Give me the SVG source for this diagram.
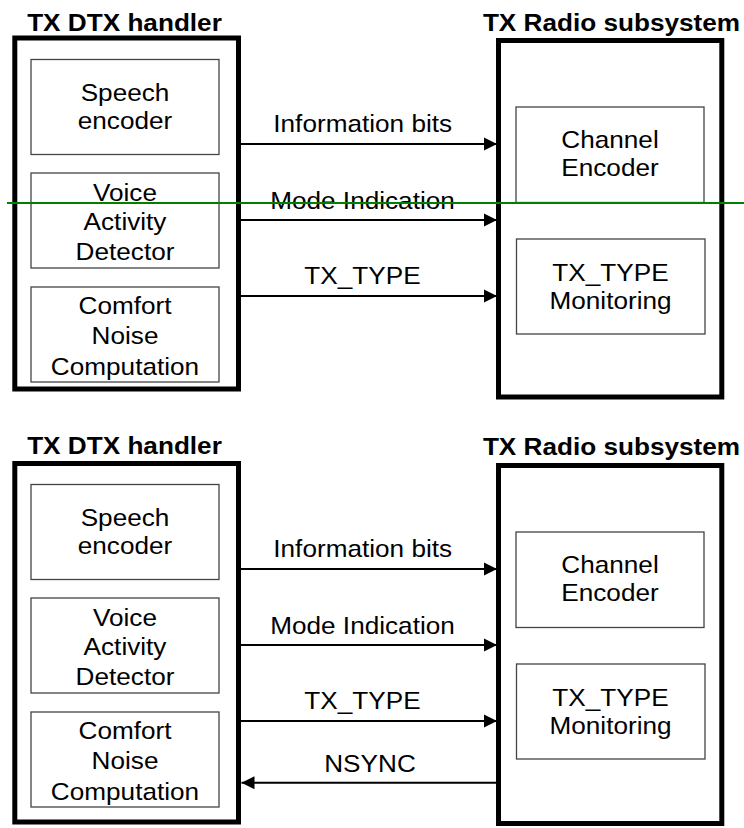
<svg xmlns="http://www.w3.org/2000/svg" width="744" height="828" viewBox="0 0 744 828">
  <style>
    .frame { fill: none; stroke: #000; stroke-width: 5; }
    .block { fill: #fff; stroke: #444; stroke-width: 1.3; }
    .lbl { font-family: "Liberation Sans", Arial, sans-serif; font-size: 24px; fill: #000; text-anchor: middle; }
    .ttl { font-family: "Liberation Sans", Arial, sans-serif; font-size: 24px; font-weight: bold; fill: #000; text-anchor: middle; }
    .wire { stroke: #000; stroke-width: 2; fill: none; }
  </style>
  <defs>
    <marker id="head" markerUnits="userSpaceOnUse" markerWidth="14" markerHeight="14" refX="13" refY="7" orient="auto">
      <path d="M0,0.5 L13,7 L0,13.5 Z" fill="#000"/>
    </marker>
  </defs>
  <rect width="744" height="828" fill="#fff"/>

  <!-- Upper arrangement: without NSYNC -->
  <g id="tx-dtx-handler-1">
    <text class="ttl" transform="translate(124.5 30.5) scale(1.09 1)">TX DTX handler</text>
    <rect class="frame" x="14.8" y="38" width="223.7" height="351"/>
  </g>
  <g id="speech-encoder-1">
    <rect class="block" x="31" y="59.5" width="188" height="95"/>
    <text class="lbl" transform="translate(125 100.5) scale(1.09 1)"><tspan x="0" y="0">Speech</tspan><tspan x="0" y="28.5">encoder</tspan></text>
  </g>
  <g id="vad-1">
    <rect class="block" x="31" y="173" width="188" height="95"/>
    <text class="lbl" transform="translate(125 200.5) scale(1.09 1)"><tspan x="0" y="0">Voice</tspan><tspan x="0" y="30">Activity</tspan><tspan x="0" y="60">Detector</tspan></text>
  </g>
  <g id="comfort-noise-1">
    <rect class="block" x="31" y="287" width="188" height="95"/>
    <text class="lbl" transform="translate(125 313.5) scale(1.09 1)"><tspan x="0" y="0">Comfort</tspan><tspan x="0" y="31">Noise</tspan><tspan x="0" y="62">Computation</tspan></text>
  </g>
  <g id="tx-radio-1">
    <text class="ttl" transform="translate(611.5 31) scale(1.09 1)">TX Radio subsystem</text>
    <rect class="frame" x="498.5" y="40.5" width="223.3" height="356.5"/>
  </g>
  <g id="channel-encoder-1">
    <rect class="block" x="516" y="107" width="188" height="95.5"/>
    <text class="lbl" transform="translate(610 148) scale(1.09 1)"><tspan x="0" y="0">Channel</tspan><tspan x="0" y="28">Encoder</tspan></text>
  </g>
  <g id="tx-type-monitoring-1">
    <rect class="block" x="516.5" y="239" width="188.5" height="95"/>
    <text class="lbl" transform="translate(610.5 281) scale(1.09 1)"><tspan x="0" y="0">TX_TYPE</tspan><tspan x="0" y="28.5">Monitoring</tspan></text>
  </g>
  <g id="connectors-1">
    <line class="wire" x1="240" y1="144" x2="497" y2="144" marker-end="url(#head)"/>
    <text class="lbl" transform="translate(362.7 132.3) scale(1.09 1)">Information bits</text>
    <line class="wire" x1="240" y1="220" x2="497" y2="220" marker-end="url(#head)"/>
    <text class="lbl" transform="translate(362.5 209) scale(1.09 1)">Mode Indication</text>
    <line class="wire" x1="240" y1="296" x2="497" y2="296" marker-end="url(#head)"/>
    <text class="lbl" transform="translate(362.5 284.3) scale(1.09 1)">TX_TYPE</text>
  </g>

  <!-- Lower arrangement: with NSYNC feedback -->
  <g id="tx-dtx-handler-2">
    <text class="ttl" transform="translate(124.5 454) scale(1.09 1)">TX DTX handler</text>
    <rect class="frame" x="14.8" y="463.5" width="223.7" height="358.5"/>
  </g>
  <g id="speech-encoder-2">
    <rect class="block" x="31" y="484.5" width="188" height="95"/>
    <text class="lbl" transform="translate(125 525.5) scale(1.09 1)"><tspan x="0" y="0">Speech</tspan><tspan x="0" y="28.5">encoder</tspan></text>
  </g>
  <g id="vad-2">
    <rect class="block" x="31" y="598" width="188" height="95"/>
    <text class="lbl" transform="translate(125 625.5) scale(1.09 1)"><tspan x="0" y="0">Voice</tspan><tspan x="0" y="30">Activity</tspan><tspan x="0" y="60">Detector</tspan></text>
  </g>
  <g id="comfort-noise-2">
    <rect class="block" x="31" y="712" width="188" height="95"/>
    <text class="lbl" transform="translate(125 738.5) scale(1.09 1)"><tspan x="0" y="0">Comfort</tspan><tspan x="0" y="31">Noise</tspan><tspan x="0" y="62">Computation</tspan></text>
  </g>
  <g id="tx-radio-2">
    <text class="ttl" transform="translate(611.5 455) scale(1.09 1)">TX Radio subsystem</text>
    <rect class="frame" x="498.5" y="465.5" width="223.3" height="358"/>
  </g>
  <g id="channel-encoder-2">
    <rect class="block" x="516" y="532" width="188" height="95.5"/>
    <text class="lbl" transform="translate(610 573) scale(1.09 1)"><tspan x="0" y="0">Channel</tspan><tspan x="0" y="28">Encoder</tspan></text>
  </g>
  <g id="tx-type-monitoring-2">
    <rect class="block" x="516.5" y="664" width="188.5" height="95"/>
    <text class="lbl" transform="translate(610.5 706) scale(1.09 1)"><tspan x="0" y="0">TX_TYPE</tspan><tspan x="0" y="28.5">Monitoring</tspan></text>
  </g>
  <g id="connectors-2">
    <line class="wire" x1="240" y1="569" x2="497" y2="569" marker-end="url(#head)"/>
    <text class="lbl" transform="translate(362.7 557.3) scale(1.09 1)">Information bits</text>
    <line class="wire" x1="240" y1="645" x2="497" y2="645" marker-end="url(#head)"/>
    <text class="lbl" transform="translate(362.5 634) scale(1.09 1)">Mode Indication</text>
    <line class="wire" x1="240" y1="721" x2="497" y2="721" marker-end="url(#head)"/>
    <text class="lbl" transform="translate(362.5 709.3) scale(1.09 1)">TX_TYPE</text>
    <line class="wire" x1="497" y1="782.7" x2="241.5" y2="782.7" marker-end="url(#head)"/>
    <text class="lbl" transform="translate(370 772.3) scale(1.09 1)">NSYNC</text>
  </g>

  <!-- horizontal green rule across the upper arrangement -->
  <line id="green-rule" x1="7" y1="203" x2="744" y2="203" stroke="#008000" stroke-width="2"/>
</svg>
